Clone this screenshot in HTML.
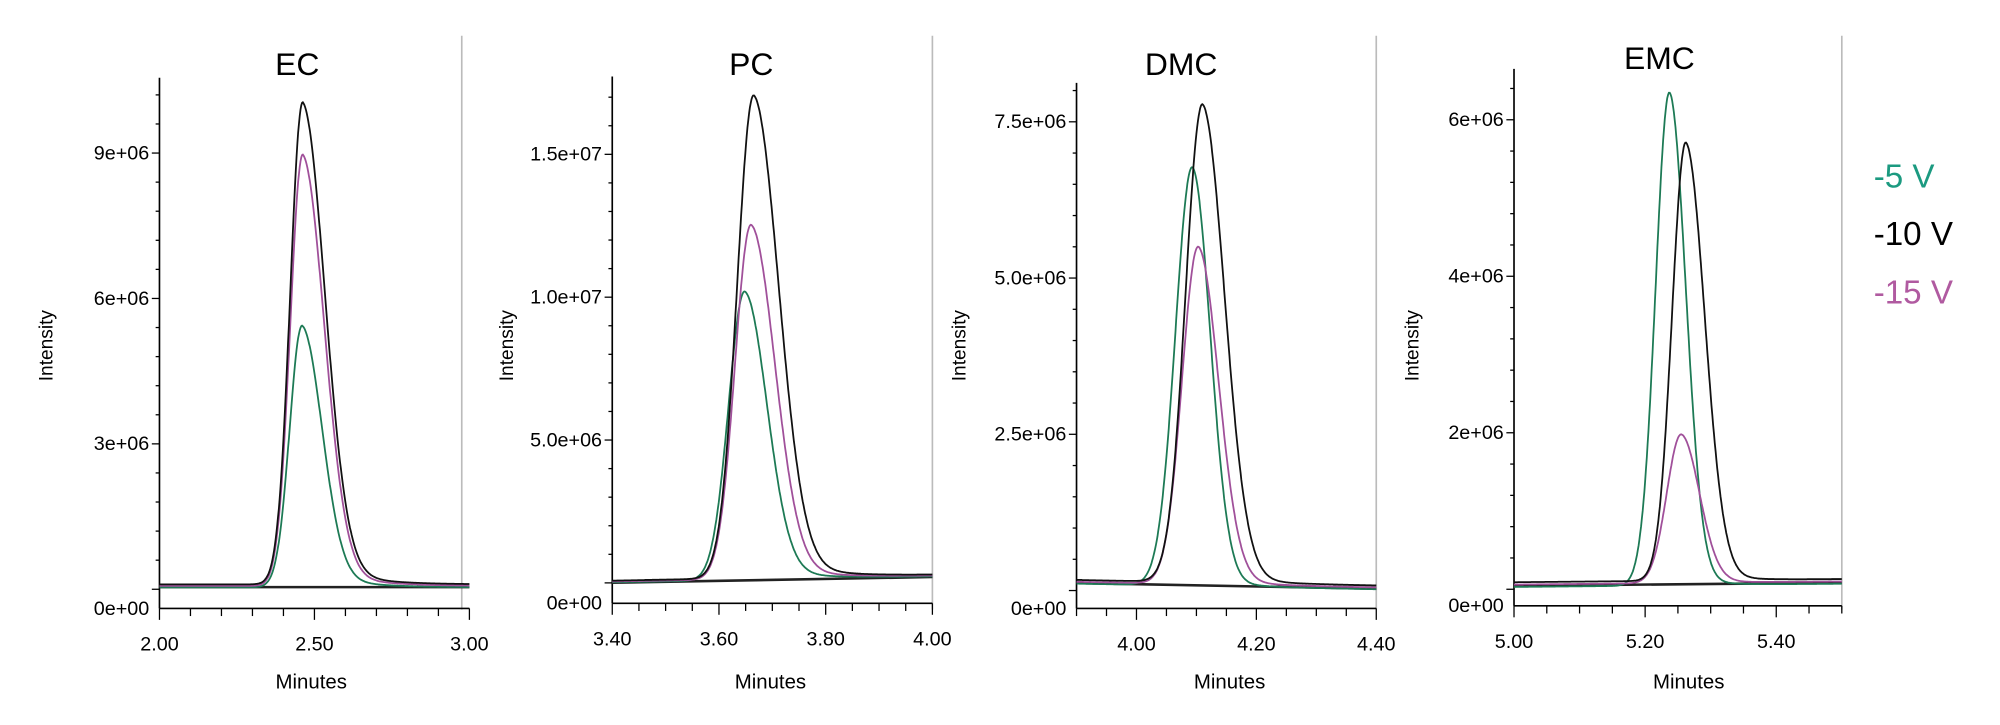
<!DOCTYPE html>
<html><head><meta charset="utf-8"><style>
html,body{margin:0;padding:0;background:#fff;}
svg text{font-family:"Liberation Sans",sans-serif;}
</style></head><body>
<svg id="s" width="2000" height="720" viewBox="0 0 1568 564.5" xmlns="http://www.w3.org/2000/svg">
<rect width="1568" height="564.5" fill="#fff"/>
<g font-size="25" text-anchor="middle" fill="#000">
<text x="233" y="59">EC</text>
<text x="589" y="59">PC</text>
<text x="926" y="59">DMC</text>
<text x="1301" y="54">EMC</text>
</g>
<g font-size="16" text-anchor="middle" fill="#000">
<text x="244" y="540">Minutes</text>
<text x="604" y="540">Minutes</text>
<text x="964" y="540">Minutes</text>
<text x="1324" y="540">Minutes</text>
</g>
<g font-size="15" text-anchor="middle" fill="#000">
<text transform="translate(41,271) rotate(-90)">Intensity</text>
<text transform="translate(402,271) rotate(-90)">Intensity</text>
<text transform="translate(757,271) rotate(-90)">Intensity</text>
<text transform="translate(1112,271) rotate(-90)">Intensity</text>
</g>
<g font-size="26">
<text x="1469" y="147" fill="#1b9a80">-5 V</text>
<text x="1469" y="192" fill="#000">-10 V</text>
<text x="1469" y="238" fill="#b05aa0">-15 V</text>
</g>
<g id="g"></g>
</svg>
<script>
var NS="http://www.w3.org/2000/svg",G=document.getElementById('g');
function el(n,a,t){var e=document.createElementNS(NS,n);for(var k in a)e.setAttribute(k,a[k]);if(t!==undefined)e.textContent=t;G.appendChild(e);return e;}
function line(x1,y1,x2,y2,c,w){el('line',{x1:x1,y1:y1,x2:x2,y2:y2,stroke:c||'#000','stroke-width':w||1.3});}
var panels=[
{x0:125,x1:368,t0:2.0,t1:3.0,ytop:61,ybot:477,y0:462,yunit:114/3e6,ymaj:3e6,ymin:0.6e6,ymax:10.5e6,ylab:function(v){return (v/1e6)+'e+06'},xmaj:[2.0,2.5,3.0],xminStep:0.1,gx:362,
 base:[0.07e6,0.07e6],
 peaks:[['#1d7a55',2.46,5.4e6,0.04,0.065,0.08,0.12],['#a0509a',2.462,8.9e6,0.04,0.07,0.07,0.12],['#111',2.462,9.95e6,0.04,0.072,0.07,0.12]]},
{x0:480,x1:731,t0:3.4,t1:4.0,ytop:60,ybot:473,y0:457,yunit:112/5e6,ymaj:5e6,ymin:1e6,ymax:1.8e7,ylab:function(v){return v>=1e7?(v/1e7).toFixed(1)+'e+07':(v/1e6).toFixed(1)+'e+06'},xmaj:[3.4,3.6,3.8,4.0],xminStep:0.05,gx:731,
 base:[0.05e6,0.25e6],
 peaks:[['#1d7a55',3.648,10.1e6,0.03,0.042,0.06,0.08],['#a0509a',3.66,12.4e6,0.03,0.045,0.06,0.08],['#111',3.665,16.9e6,0.031,0.047,0.06,0.08]]},
{x0:844,x1:1079,t0:3.9,t1:4.4,ytop:65,ybot:477,y0:463,yunit:122.5/2.5e6,ymaj:2.5e6,ymin:0.5e6,ymax:8.1e6,ylab:function(v){return (v/1e6).toFixed(1)+'e+06'},xmaj:[4.0,4.2,4.4],xminStep:0.05,gx:1079,
 base:[0.14e6,0.05e6],
 peaks:[['#1d7a55',4.093,6.7e6,0.028,0.03,0.03,0.05],['#a0509a',4.103,5.4e6,0.027,0.034,0.04,0.05],['#111',4.11,7.65e6,0.028,0.037,0.04,0.05]]},
{x0:1187,x1:1444,t0:5.0,t1:5.5,ytop:54,ybot:475,y0:462,yunit:122.7/2e6,ymaj:2e6,ymin:0.4e6,ymax:6.6e6,ylab:function(v){return (v/1e6)+'e+06'},xmaj:[5.0,5.2,5.4],xminStep:0.05,gx:1444,
 base:[0.06e6,0.1e6],
 peaks:[['#1d7a55',5.237,6.3e6,0.021,0.025,0.03,0.04],['#a0509a',5.255,1.9e6,0.022,0.028,0.04,0.04],['#111',5.262,5.6e6,0.021,0.029,0.04,0.04]]}
];
panels.forEach(function(p){
 var X=function(t){return p.x0+(t-p.t0)/(p.t1-p.t0)*(p.x1-p.x0)};
 var Y=function(v){return p.y0-v*p.yunit};
 line(p.gx,28,p.gx,478,'#bbb',1.3);
 line(p.x0,p.ytop,p.x0,p.ybot);
 line(p.x0,p.ybot,p.x1,p.ybot);
 for(var v=0;v<=p.ymax+1;v+=p.ymin){var yy=Y(v);if(yy<p.ytop)break;var maj=Math.abs(v/p.ymaj-Math.round(v/p.ymaj))<1e-6;line(p.x0-(maj?6:3),yy,p.x0,yy,'#000',1);
  if(maj){var lab=v==0?'0e+00':p.ylab(v);el('text',{x:p.x0-8,y:(v==0?p.ybot+5:yy+5),'font-size':15.5,'text-anchor':'end'},lab);}}
 for(var t=p.t0;t<=p.t1+1e-6;t+=p.xminStep){var maj=p.xmaj.some(function(m){return Math.abs(m-t)<1e-6});line(X(t),p.ybot,X(t),p.ybot+(maj?9:6),'#000',1);}
 p.xmaj.forEach(function(m){el('text',{x:X(m),y:p.ybot+33,'font-size':15.5,'text-anchor':'middle'},m.toFixed(2));});
 line(X(p.t0),Y(p.base[0])+1,X(p.t1),Y(p.base[1])+1,'#222',2);
 p.peaks.forEach(function(k,i){
  var d='';for(var j=0;j<=400;j++){var t=p.t0+(p.t1-p.t0)*j/400;var u=t-k[1],f;
   if(u<0)f=Math.exp(-0.5*u*u/(k[3]*k[3]));else f=(1-k[5])*Math.exp(-0.5*u*u/(k[4]*k[4]))+k[5]*Math.exp(-u/k[6]);
   var b=p.base[0]+(p.base[1]-p.base[0])*j/400+(i-1)*0.03e6;
   d+=(j?'L':'M')+X(t).toFixed(1)+' '+Y(b+k[2]*f).toFixed(1);}
  el('path',{d:d,fill:'none',stroke:k[0],'stroke-width':1.4});
 });
});
</script>
</body></html>
